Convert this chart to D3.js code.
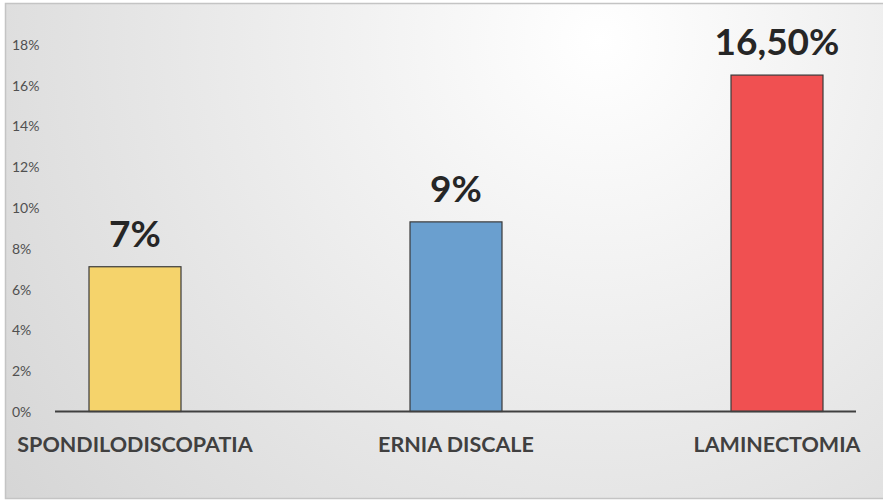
<!DOCTYPE html>
<html><head><meta charset="utf-8">
<script src="https://cdn.jsdelivr.net/npm/d3@7"></script>
<style>html,body{margin:0;padding:0;background:#fff;}svg{display:block;}</style>
</head><body>
<svg id="chart" width="883" height="501"></svg>
<script>
const categories = ["SPONDILODISCOPATIA", "ERNIA DISCALE", "LAMINECTOMIA"];
const values = [7.1, 9.3, 16.5];
const valueLabels = ["7%", "9%", "16,50%"];
const barColors = ["#F5D36B", "#6A9FCF", "#F05051"];
const yTicks = [0, 2, 4, 6, 8, 10, 12, 14, 16, 18];
const yTickLabels = ["0%", "2%", "4%", "6%", "8%", "10%", "12%", "14%", "16%", "18%"];

const svg = d3.select("#chart");
const W = 883, H = 501;

const defs = svg.append("defs");
const grad = defs.append("radialGradient").attr("id", "bg")
  .attr("gradientUnits", "userSpaceOnUse")
  .attr("cx", 600).attr("cy", 40).attr("r", 760);
grad.append("stop").attr("offset", "0%").attr("stop-color", "#FFFFFF");
grad.append("stop").attr("offset", "100%").attr("stop-color", "#D5D5D5");

svg.append("rect").attr("x", 0).attr("y", 0).attr("width", W).attr("height", H).attr("fill", "#FFFFFF");
svg.append("rect").attr("x", 5.5).attr("y", 3.5).attr("width", 890).attr("height", 495)
  .attr("fill", "url(#bg)").attr("stroke", "#C4C4C4").attr("stroke-width", 1.5);

const y = d3.scaleLinear().domain([0, 18]).range([411.5, 44.5]);
const x = d3.scalePoint().domain(categories).range([135, 777]);
const barW = 92;

// y tick labels
const yAxis = d3.axisLeft(y).tickValues(yTicks).tickSize(0)
  .tickFormat((d, i) => yTickLabels[i]);
const gy = svg.append("g").attr("transform", "translate(12,0)").call(yAxis);
gy.select(".domain").remove();
gy.selectAll("text").attr("text-anchor", "start").attr("x", 0).attr("dy", "0.35em")
  .attr("font-family", "Lato, 'Open Sans', sans-serif").attr("font-size", 14).attr("fill", "#505050");

// bars
svg.append("g").selectAll("rect").data(values).join("rect")
  .attr("x", (d, i) => x(categories[i]) - barW / 2)
  .attr("y", d => y(d))
  .attr("width", barW)
  .attr("height", d => y(0) - y(d))
  .attr("fill", (d, i) => barColors[i])
  .attr("stroke", "#3A3A3A").attr("stroke-width", 1.2);

// baseline
svg.append("line").attr("x1", 55).attr("x2", 856).attr("y1", y(0)).attr("y2", y(0))
  .attr("stroke", "#404040").attr("stroke-width", 2.2);

// value labels
svg.append("g").selectAll("text").data(values).join("text")
  .attr("x", (d, i) => x(categories[i]))
  .attr("y", d => y(d) - 20)
  .attr("text-anchor", "middle")
  .attr("font-family", "Lato, 'Open Sans', sans-serif").attr("font-weight", "bold")
  .attr("font-size", 37).attr("fill", "#262626")
  .text((d, i) => valueLabels[i]);

// category labels
svg.append("g").selectAll("text").data(categories).join("text")
  .attr("x", d => x(d))
  .attr("y", 452)
  .attr("text-anchor", "middle")
  .attr("font-family", "Lato, 'Open Sans', sans-serif").attr("font-weight", "bold")
  .attr("font-size", 21.5).attr("fill", "#404040")
  .text(d => d);
</script>
</body></html>
